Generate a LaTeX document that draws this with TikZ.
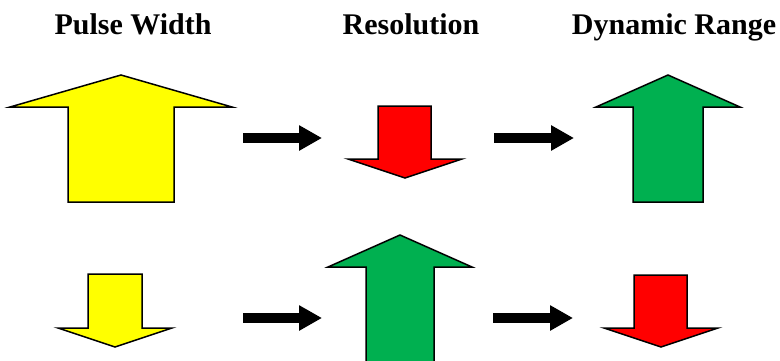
\documentclass[tikz,border=0pt]{standalone}
\usepackage{fontspec}
\setmainfont{Liberation Serif}
\usetikzlibrary{arrows.meta}
\definecolor{ayellow}{HTML}{FFFF00}
\definecolor{ared}{HTML}{FF0000}
\definecolor{agreen}{HTML}{00B050}
\tikzset{
  blockarrow/.style={draw=black, line width=1.5pt, line join=miter},
  title/.style={font=\fontsize{30}{36}\selectfont\bfseries, anchor=base, inner sep=0pt},
  flowarrow/.style={line width=10pt, -{Triangle[length=23pt,width=24pt]}}
}
\begin{document}
\begin{tikzpicture}[x=1pt,y=-1pt]
\clip (0,0) rectangle (780,360);
% titles
\node[title] (t1) at (133,34) {Pulse Width};
\node[title] (t2) at (411,34) {Resolution};
\node[title] (t3) at (674,34) {Dynamic Range};
% row 1
\fill[ayellow, blockarrow] (10,107) -- (121,75) -- (232,107) -- (174,107) -- (174,202) -- (68,202) -- (68,107) -- cycle;
\fill[ared, blockarrow] (378,106) -- (431,106) -- (431,159) -- (462,159) -- (405,178) -- (348,159) -- (378,159) -- cycle;
\fill[agreen, blockarrow] (596,107) -- (668,75) -- (740,107) -- (703,107) -- (703,202) -- (633,202) -- (633,107) -- cycle;
% row 2
\fill[ayellow, blockarrow] (88,274) -- (142,274) -- (142,328) -- (172,328) -- (115,347) -- (58,328) -- (88,328) -- cycle;
\fill[agreen, blockarrow] (328,267) -- (400,235) -- (472,267) -- (434,267) -- (434,366) -- (366,366) -- (366,267) -- cycle;
\fill[ared, blockarrow] (634,275) -- (687,275) -- (687,328) -- (718,328) -- (661,347) -- (604,328) -- (634,328) -- cycle;
% flow arrows
\coordinate (a1s) at (243,138); \coordinate (a1e) at (322,138);
\coordinate (a2s) at (494,138); \coordinate (a2e) at (574,138);
\coordinate (a3s) at (243,318); \coordinate (a3e) at (322,318);
\coordinate (a4s) at (493,318); \coordinate (a4e) at (573,318);
\draw[flowarrow] (a1s) -- (a1e);
\draw[flowarrow] (a2s) -- (a2e);
\draw[flowarrow] (a3s) -- (a3e);
\draw[flowarrow] (a4s) -- (a4e);
\end{tikzpicture}
\end{document}
